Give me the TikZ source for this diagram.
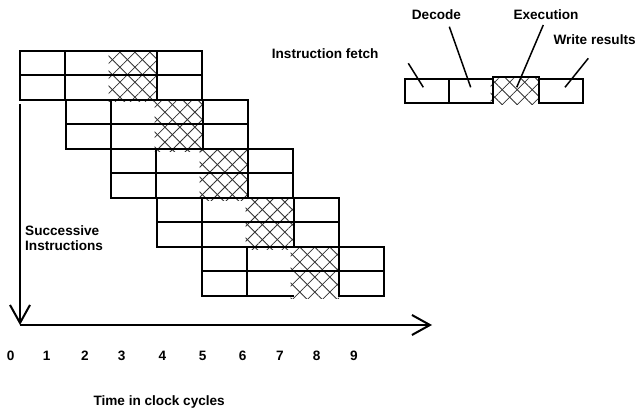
\documentclass[tikz,border=0pt]{standalone}
\usepackage{fontspec}
\setmainfont{Liberation Sans}
\usetikzlibrary{arrows.meta,patterns.meta}
\begin{document}
\begin{tikzpicture}[x=1pt,y=-1pt,
  cellline/.style={line width=2pt, line cap=rect},
  hatchA/.style={pattern={Lines[angle=45,distance=10.6pt,line width=0.8pt]},pattern color=black!80},
  hatchB/.style={pattern={Lines[angle=-45,distance=10.6pt,line width=0.8pt]},pattern color=black!80},
  lbl/.style={font=\fontsize{13.6}{15}\selectfont\bfseries, inner sep=0pt, anchor=base west},
  num/.style={font=\fontsize{13.6}{15}\selectfont\bfseries, inner sep=0pt, anchor=base},
  axis/.style={line width=2pt, -{Straight Barb[length=18pt,width=20pt,line width=2pt]}},
  lead/.style={line width=1.5pt}]
\useasboundingbox (0,0) rectangle (635,412);

% pipeline grid
\foreach \k in {0,...,4}{
  \pgfmathsetmacro{\xa}{round(20+45.5*\k)}
  \pgfmathsetmacro{\ya}{51+49*\k}
  \begin{scope}[shift={(\xa,\ya)}]
    \fill[hatchA] (88.5,0) rectangle (137,51);
    \fill[hatchB] (88.5,0) rectangle (137,51);
    \draw[cellline] (0,0) -- (182,0) (0,24) -- (182,24)
      (0,49) -- (91,49) (137,49) -- (182,49)
      (0,0) -- (0,49) (45,0) -- (45,49) (137,0) -- (137,49) (182,0) -- (182,49);
  \end{scope}
}

% axes
\coordinate (vstart) at (20,104);
\coordinate (origin) at (20,325);
\coordinate (hend) at (432,325);
\draw[axis] (vstart) -- (origin);
\draw[axis] (origin) -- (hend);

% tick numbers
\foreach \n/\px in {0/10.7,1/46.7,2/85,3/121.7,4/162.3,5/202.7,6/242.7,7/280,8/316.7,9/354}{
  \node[num] (t\n) at (\px,360.7) {\n};
}

\node[lbl] (timelbl) at (93.3,405) {Time in clock cycles};
\node[lbl] (succ) at (25,235) {Successive};
\node[lbl] (instr) at (25,250) {Instructions};
\node[lbl] (fetch) at (271.7,58.3) {Instruction fetch};

% single instruction stages (top right)
\fill[hatchA] (490.5,79) rectangle (539,105);
\fill[hatchB] (490.5,79) rectangle (539,105);
\draw[cellline] (405,79) rectangle (493,103) (449,79) -- (449,103);
\draw[cellline] (493,103) -- (493,77) -- (539,77) -- (539,103);
\draw[cellline] (539,79) rectangle (583,103);

\node[lbl] (decode) at (411.7,19.3) {Decode};
\node[lbl] (exec) at (513.3,19.3) {Execution};
\node[lbl] (write) at (553.3,44.3) {Write results};

\coordinate (f1) at (408.3,63.3);
\coordinate (f2) at (423.3,87.3);
\coordinate (d1) at (449.3,26.7);
\coordinate (d2) at (470.7,87.3);
\coordinate (e1) at (543.3,25);
\coordinate (e2) at (516.7,87.3);
\coordinate (w1) at (588.3,58.3);
\coordinate (w2) at (565,87.3);
\draw[lead] (f1) -- (f2);
\draw[lead] (d1) -- (d2);
\draw[lead] (e1) -- (e2);
\draw[lead] (w1) -- (w2);
\end{tikzpicture}
\end{document}
